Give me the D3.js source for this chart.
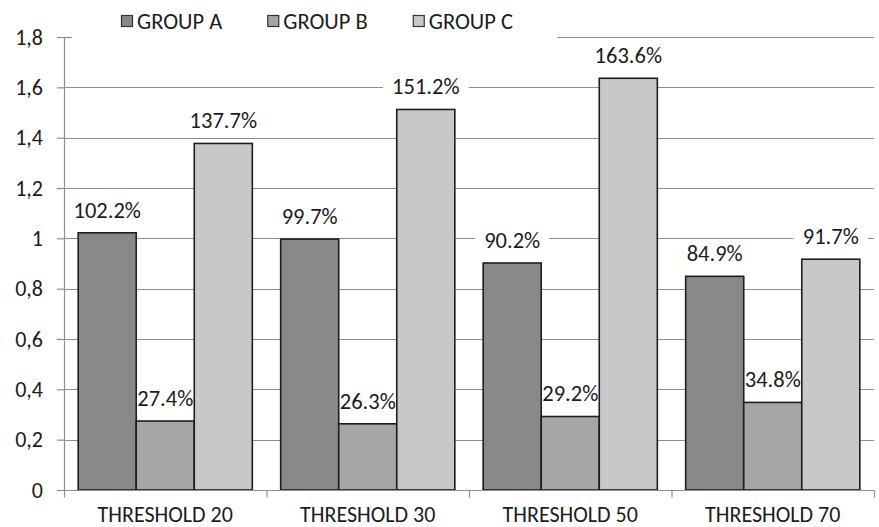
<!DOCTYPE html>
<html>
<head>
<meta charset="utf-8">
<script src="https://cdn.jsdelivr.net/npm/d3@7/dist/d3.min.js"></script>
<style>
  html, body { margin: 0; padding: 0; background: #fff; }
  svg { display: block; }
  text { font-family: Carlito, Lato, "Open Sans", sans-serif; fill: #1c1c1c; }
</style>
</head>
<body>
<svg id="chart" width="879" height="527"></svg>
<script>
// Thresholds on the x axis
const categories = ["THRESHOLD 20", "THRESHOLD 30", "THRESHOLD 50", "THRESHOLD 70"];
// Series names shown in the legend
const seriesNames = ["GROUP A", "GROUP B", "GROUP C"];
// Ratio per threshold for each group
const groupA = [1.022, 0.997, 0.902, 0.849];
const groupB = [0.274, 0.263, 0.292, 0.348];
const groupC = [1.377, 1.512, 1.636, 0.917];
// Y axis ticks
const yTicks = [0, 0.2, 0.4, 0.6, 0.8, 1.0, 1.2, 1.4, 1.6, 1.8];

const seriesValues = [groupA, groupB, groupC];
const colors = ["#898989", "#a6a6a6", "#c8c8c8"];
const FONT = "Carlito, Lato, 'Open Sans', sans-serif";

const svg = d3.select("#chart");
const plotL = 64, plotR = 874, plotT = 37, plotB = 490;

const x0 = d3.scaleBand().domain(categories).range([plotL, plotR])
  .paddingInner(0.14).paddingOuter(0.07);
const x1 = d3.scaleBand().domain(seriesNames).range([0, x0.bandwidth()]);
const y = d3.scaleLinear().domain([0, 1.8]).range([plotB, plotT]);
const boundary = d3.scaleLinear().domain([0, categories.length]).range([plotL, plotR]);

const rows = [];
categories.forEach((c, i) => {
  seriesNames.forEach((s, j) => rows.push({ cat: c, series: s, j, value: seriesValues[j][i] }));
});

const fmt = d3.format(".1%");
const gridColor = "#8f8f8f";

// Horizontal gridlines
svg.append("g").selectAll("line")
  .data(yTicks.filter(t => t > 0))
  .join("line")
  .attr("x1", plotL).attr("x2", plotR)
  .attr("y1", d => Math.round(y(d)) + 0.5).attr("y2", d => Math.round(y(d)) + 0.5)
  .attr("stroke", gridColor).attr("stroke-width", 1.2);

// Legend panel (white backing over the top gridline)
svg.append("rect").attr("x", 72).attr("y", 0).attr("width", 485).attr("height", 41).attr("fill", "#fff");

// Data label backings
const labelG = svg.append("g");
const labelY = d => y(d.value) - 23;
const bx = d => x0(d.cat) + x1(d.series) + x1.bandwidth() / 2;

const texts = svg.append("g").selectAll("text")
  .data(rows).join("text")
  .attr("x", bx)
  .attr("y", labelY)
  .attr("dy", "0.35em")
  .attr("text-anchor", "middle")
  .attr("font-size", 22.5)
  .text(d => fmt(d.value));

const boxes = [];
texts.each(function (d) {
  boxes.push({ d, w: this.getComputedTextLength() });
});
labelG.selectAll("rect").data(boxes).join("rect")
  .attr("x", b => bx(b.d) - b.w / 2 - 9)
  .attr("y", b => labelY(b.d) - 12)
  .attr("width", b => b.w + 18)
  .attr("height", 24)
  .attr("fill", "#fff");

// Bars
svg.append("g").selectAll("rect")
  .data(rows).join("rect")
  .attr("x", d => x0(d.cat) + x1(d.series))
  .attr("y", d => y(d.value))
  .attr("width", x1.bandwidth())
  .attr("height", d => y(0) - y(d.value))
  .attr("fill", d => colors[d.j])
  .attr("stroke", "#1e1e1e")
  .attr("stroke-width", 1.6);

// Labels above bars
texts.each(function () { this.parentNode.parentNode.appendChild(this.parentNode); });

// Y axis
const yAxis = svg.append("g")
  .attr("transform", `translate(${plotL},0)`)
  .call(d3.axisLeft(y).tickValues(yTicks).tickSize(7).tickPadding(14)
    .tickFormat(d => d3.format(".1f")(d).replace(/\.0$/, "").replace(".", ",")));
yAxis.select(".domain").attr("stroke", gridColor).attr("stroke-width", 1.2).attr("d", `M0.5,${plotT}V${plotB}`);
yAxis.selectAll(".tick line").attr("stroke", gridColor).attr("stroke-width", 1.2);
yAxis.selectAll(".tick text").attr("font-size", 22).attr("fill", "#1c1c1c").style("font-family", FONT);
// short inner mark on top tick
svg.append("line").attr("x1", plotL).attr("x2", 72)
  .attr("y1", Math.round(y(1.8)) + 0.5).attr("y2", Math.round(y(1.8)) + 0.5)
  .attr("stroke", gridColor).attr("stroke-width", 1.2);

// X axis: boundary ticks
const xTicks = svg.append("g")
  .attr("transform", `translate(0,${Math.round(plotB) + 0.5})`)
  .call(d3.axisBottom(boundary).tickValues(d3.range(categories.length + 1)).tickSize(7).tickFormat(""));
xTicks.select(".domain").attr("stroke", gridColor).attr("stroke-width", 1.2).attr("d", `M${plotL},0H${plotR}`);
xTicks.selectAll(".tick line").attr("stroke", gridColor).attr("stroke-width", 1.2);

// X axis: category labels
const xLabels = svg.append("g")
  .attr("transform", `translate(0,${plotB})`)
  .call(d3.axisBottom(x0).tickSize(0).tickPadding(0));
xLabels.select(".domain").remove();
xLabels.selectAll(".tick text").attr("font-size", 22).attr("fill", "#1c1c1c")
  .attr("dy", null).attr("y", 32).style("font-family", FONT);

// Legend
const legend = svg.append("g");
let lx = 121;
seriesNames.forEach((s, j) => {
  const g = legend.append("g").attr("transform", `translate(${lx},0)`);
  g.append("rect").attr("x", 0.5).attr("y", 15.5).attr("width", 11).attr("height", 11)
    .attr("fill", colors[j]).attr("stroke", "#333").attr("stroke-width", 1.2);
  const t = g.append("text").attr("x", 16).attr("y", 21).attr("dy", "0.35em")
    .attr("font-size", 22.5).text(s);
  lx += 16 + t.node().getComputedTextLength() + 45;
});
</script>
</body>
</html>
